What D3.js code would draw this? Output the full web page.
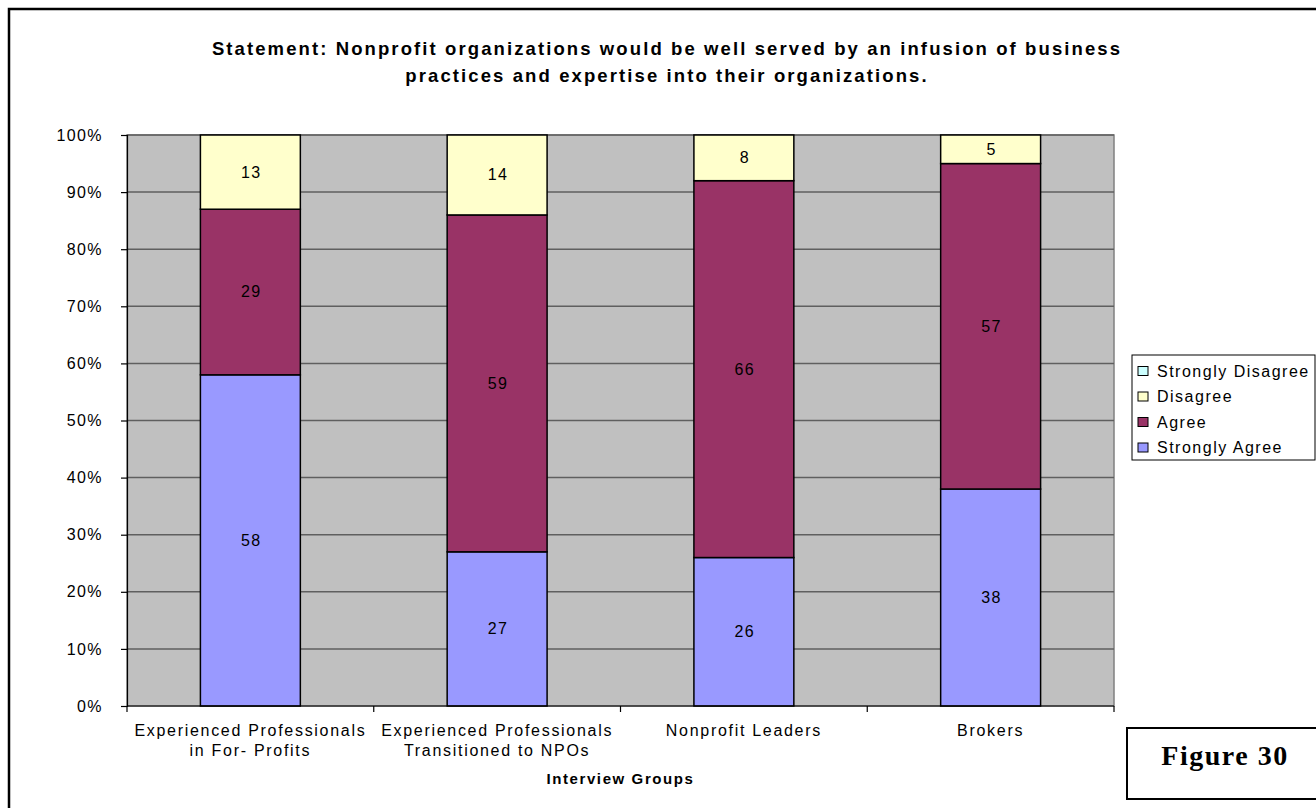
<!DOCTYPE html>
<html>
<head>
<meta charset="utf-8">
<script src="https://cdn.jsdelivr.net/npm/d3@7"></script>
<style>
  html, body { margin: 0; padding: 0; background: #fff; }
  svg { display: block; }
  text { font-family: Arial, "Liberation Sans", sans-serif; fill: #000; }
</style>
</head>
<body>
<svg id="chart" width="1316" height="808"></svg>
<script>
// Survey responses per interview group (percent)
const groups = [
  ["Experienced Professionals", "in For- Profits"],
  ["Experienced Professionals", "Transitioned to NPOs"],
  ["Nonprofit Leaders"],
  ["Brokers"]
];
const stronglyAgree    = [58, 27, 26, 38];
const agree            = [29, 59, 66, 57];
const disagree         = [13, 14, 8, 5];
const stronglyDisagree = [0, 0, 0, 0];

const seriesNames = ["Strongly Agree", "Agree", "Disagree", "Strongly Disagree"];
const seriesColors = ["#9999FF", "#993366", "#FFFFCC", "#CCFFFF"];
const yTicks = [0, 10, 20, 30, 40, 50, 60, 70, 80, 90, 100];

const titleLines = [
  "Statement: Nonprofit organizations would be well served by an infusion of business",
  "practices and expertise into their organizations."
];
const xTitle = "Interview Groups";
const figureLabel = "Figure 30";

const svg = d3.select("#chart");

// Outer frame
svg.append("rect")
  .attr("x", 9).attr("y", 9).attr("width", 1340).attr("height", 830)
  .attr("fill", "none").attr("stroke", "#000").attr("stroke-width", 2.5);

const plot = { left: 127, right: 1114, top: 135, bottom: 706 };

const keys = groups.map((g, i) => "g" + i);
const x = d3.scaleBand().domain(keys).range([plot.left, plot.right]).paddingInner(0.595).paddingOuter(0.2975);
const xEdge = d3.scaleBand().domain(keys).range([plot.left, plot.right]).padding(0);
const y = d3.scaleLinear().domain([0, 100]).range([plot.bottom, plot.top]);

// Plot background
svg.append("rect")
  .attr("x", plot.left).attr("y", plot.top)
  .attr("width", plot.right - plot.left).attr("height", plot.bottom - plot.top)
  .attr("fill", "#C0C0C0").attr("stroke", "#808080").attr("stroke-width", 1.5);

// Gridlines
svg.append("g").selectAll("line").data(yTicks.filter(t => t > 0)).join("line")
  .attr("x1", plot.left).attr("x2", plot.right)
  .attr("y1", d => y(d)).attr("y2", d => y(d))
  .attr("stroke", "#5f5f5f").attr("stroke-width", 1.5);

// Stacked bars
const rows = keys.map((k, i) => ({
  key: k,
  "Strongly Agree": stronglyAgree[i],
  "Agree": agree[i],
  "Disagree": disagree[i],
  "Strongly Disagree": stronglyDisagree[i]
}));
const stacked = d3.stack().keys(seriesNames)(rows);

const layers = svg.append("g").selectAll("g").data(stacked).join("g")
  .attr("fill", (d, i) => seriesColors[i]);

layers.selectAll("rect").data(d => d.filter(s => s[1] - s[0] > 0)).join("rect")
  .attr("x", d => x(d.data.key))
  .attr("width", x.bandwidth())
  .attr("y", d => y(d[1]))
  .attr("height", d => y(d[0]) - y(d[1]))
  .attr("stroke", "#000").attr("stroke-width", 1.5);

// Segment value labels
layers.selectAll("text").data(d => d.filter(s => s[1] - s[0] > 0).map(s => ({ s, key: d.key }))).join("text")
  .attr("x", d => x(d.s.data.key) + x.bandwidth() / 2 + 1)
  .attr("y", d => (y(d.s[0]) + y(d.s[1])) / 2)
  .attr("dy", "0.34em")
  .attr("text-anchor", "middle")
  .attr("font-size", 16).attr("letter-spacing", 1.4)
  .text(d => d.s.data[d.key]);

// Y axis
const yAxis = svg.append("g").attr("transform", `translate(${plot.left},0)`)
  .call(d3.axisLeft(y).tickValues(yTicks).tickFormat(d => d + "%").tickSize(6).tickPadding(18));
yAxis.select(".domain").attr("stroke", "#000").attr("stroke-width", 1.2);
yAxis.selectAll(".tick line").attr("stroke", "#000").attr("stroke-width", 1.2);
yAxis.selectAll("text").attr("font-size", 16).attr("letter-spacing", 1.4)
  .attr("font-family", "Arial, 'Liberation Sans', sans-serif").attr("fill", "#000");

// X axis baseline and boundary ticks
svg.append("line")
  .attr("x1", plot.left).attr("x2", plot.right).attr("y1", plot.bottom).attr("y2", plot.bottom)
  .attr("stroke", "#000").attr("stroke-width", 1.2);
const edges = keys.map(k => xEdge(k)).concat([plot.right]);
svg.append("g").selectAll("line").data(edges).join("line")
  .attr("x1", d => d).attr("x2", d => d)
  .attr("y1", plot.bottom).attr("y2", plot.bottom + 6)
  .attr("stroke", "#000").attr("stroke-width", 1.2);

// Category labels
const catG = svg.append("g").selectAll("text").data(groups).join("text")
  .attr("text-anchor", "middle")
  .attr("font-size", 16).attr("letter-spacing", 1.7);
catG.selectAll("tspan").data((d, i) => d.map(line => ({ line, i }))).join("tspan")
  .attr("x", d => xEdge(keys[d.i]) + xEdge.bandwidth() / 2)
  .attr("y", (d, j) => 736 + j * 19.5)
  .text(d => d.line);

// Axis title
svg.append("text")
  .attr("x", (plot.left + plot.right) / 2).attr("y", 784)
  .attr("text-anchor", "middle").attr("font-weight", "bold")
  .attr("font-size", 15).attr("letter-spacing", 1.6)
  .text(xTitle);

// Chart title
svg.append("g").selectAll("text").data(titleLines).join("text")
  .attr("x", 667).attr("y", (d, i) => 55 + i * 27)
  .attr("text-anchor", "middle").attr("font-weight", "bold")
  .attr("font-size", 18.5).attr("letter-spacing", 2.1)
  .text(d => d);

// Legend
const legend = svg.append("g");
legend.append("rect")
  .attr("x", 1132).attr("y", 355).attr("width", 183).attr("height", 105)
  .attr("fill", "#fff").attr("stroke", "#000").attr("stroke-width", 1);
const legendOrder = [3, 2, 1, 0];
const li = legend.selectAll("g.item").data(legendOrder).join("g").attr("class", "item")
  .attr("transform", (d, i) => `translate(1138, ${371 + i * 25.5})`);
li.append("rect")
  .attr("x", 0).attr("y", -4.5).attr("width", 10).attr("height", 9)
  .attr("fill", d => seriesColors[d]).attr("stroke", "#000").attr("stroke-width", 1);
li.append("text")
  .attr("x", 19).attr("dy", "0.36em")
  .attr("font-size", 16).attr("letter-spacing", 1.5)
  .text(d => seriesNames[d]);

// Figure caption box
svg.append("rect")
  .attr("x", 1127).attr("y", 728).attr("width", 220).attr("height", 71)
  .attr("fill", "#fff").attr("stroke", "#000").attr("stroke-width", 2);
svg.append("text")
  .attr("x", 1225).attr("y", 765)
  .attr("text-anchor", "middle").attr("font-weight", "bold")
  .style("font-family", "'Liberation Serif', 'Times New Roman', serif")
  .attr("font-size", 28).attr("letter-spacing", 1.5)
  .text(figureLabel);
</script>
</body>
</html>
